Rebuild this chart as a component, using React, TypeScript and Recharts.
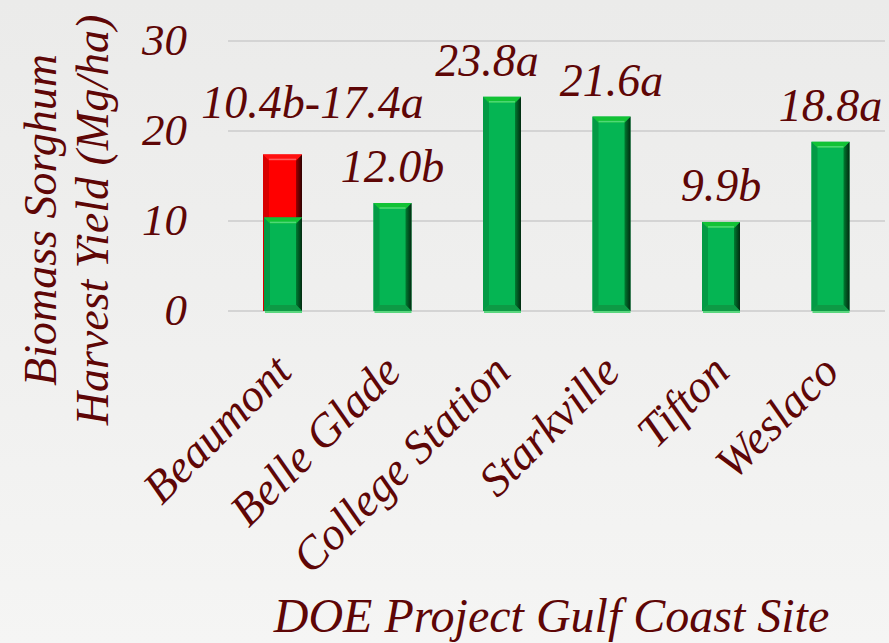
import { BarChart, Bar, XAxis, YAxis, CartesianGrid, LabelList, Label } from 'recharts'

const sites = ['Beaumont', 'Belle Glade', 'College Station', 'Starkville', 'Tifton', 'Weslaco']
const baseYield = [10.4, 12.0, 23.8, 21.6, 9.9, 18.8]
const baseGroup = ['b', 'b', 'a', 'a', 'b', 'a']
const upperYield = [17.4, null, null, null, null, null]
const upperGroup = ['a', '', '', '', '', '']
const yTicks = [0, 10, 20, 30]

const rows = sites.map((site, i) => ({
  site,
  base: baseYield[i],
  upper: upperYield[i],
  label:
    upperYield[i] != null
      ? `${baseYield[i].toFixed(1)}${baseGroup[i]}-${(upperYield[i] as number).toFixed(1)}${upperGroup[i]}`
      : `${baseYield[i].toFixed(1)}${baseGroup[i]}`,
}))

const INK = '#5e0606'
const serifItalic = (size: number) => ({
  fontFamily: 'Liberation Serif, Tinos, serif',
  fontStyle: 'italic' as const,
  fontSize: size,
})

// small nudges so neighbouring value labels don't collide
const labelNudge: Record<string, number> = {
  Beaumont: 30,
  'College Station': -15,
}

type Tone = { id: string; base: string; top: string; topHi: string; left: string; rightIn: string; rightOut: string; bottom: string }

const green: Tone = {
  id: 'bevel-green',
  base: '#05b553',
  top: '#12c235',
  topHi: '#4fd877',
  left: '#039a45',
  rightIn: '#007a30',
  rightOut: '#022a10',
  bottom: '#0d9a45',
}

const red: Tone = {
  id: 'bevel-red',
  base: '#ff0000',
  top: '#ff1010',
  topHi: '#ff5a5a',
  left: '#d80000',
  rightIn: '#9a0000',
  rightOut: '#2e0000',
  bottom: '#c00000',
}

function BevelBar(props: any) {
  const { x, y, width: w, height: h, tone } = props as { x: number; y: number; width: number; height: number; tone: Tone }
  if (!h || h <= 0) return null
  const b = 6
  return (
    <g>
      <defs>
        <linearGradient id={tone.id} x1="0" y1="0" x2="1" y2="0">
          <stop offset="0%" stopColor={tone.rightIn} />
          <stop offset="100%" stopColor={tone.rightOut} />
        </linearGradient>
      </defs>
      <rect x={x} y={y} width={w} height={h} fill={tone.base} />
      <polygon points={`${x},${y} ${x + b},${y + b} ${x + b},${y + h - b} ${x},${y + h}`} fill={tone.left} />
      <polygon
        points={`${x + w},${y} ${x + w},${y + h} ${x + w - b},${y + h - b} ${x + w - b},${y + b}`}
        fill={`url(#${tone.id})`}
      />
      <polygon points={`${x},${y + h} ${x + b},${y + h - b} ${x + w - b},${y + h - b} ${x + w},${y + h}`} fill={tone.bottom} />
      <polygon points={`${x},${y} ${x + w},${y} ${x + w - b},${y + b} ${x + b},${y + b}`} fill={tone.top} />
      <line x1={x + b} y1={y + b - 1} x2={x + w - b} y2={y + b - 1} stroke={tone.topHi} strokeWidth={1.5} />
      {tone.id === 'bevel-green' && <rect x={x + 1} y={y + h} width={w - 1} height={2} fill="#5ad67e" />}
    </g>
  )
}

function ValueLabel(props: any) {
  const { x, y, width, index, lift } = props
  const row = rows[index]
  if (!row) return null
  const dx = labelNudge[row.site] ?? 0
  return (
    <text x={x + width / 2 + dx} y={y - lift} textAnchor="middle" fill={INK} style={serifItalic(46)}>
      {row.label}
    </text>
  )
}

function SiteTick(props: any) {
  const { x, y, payload } = props
  const ax = x + 11
  const ay = y + 33
  return (
    <text
      x={ax}
      y={ay}
      transform={`rotate(-45, ${ax}, ${ay})`}
      textAnchor="end"
      fill={INK}
      style={serifItalic(46)}
    >
      {payload.value}
    </text>
  )
}

function YieldTick(props: any) {
  const { x, y, payload } = props
  return (
    <text x={x - 41} y={y + 14} textAnchor="end" fill={INK} style={serifItalic(45)}>
      {payload.value}
    </text>
  )
}

function YTitle(props: any) {
  const vb = props.viewBox ?? { x: 0, y: 41, width: 228, height: 270 }
  const cy = vb.y + vb.height / 2 + 44
  const lines = [
    { text: 'Biomass Sorghum', bx: vb.x + 56 },
    { text: 'Harvest Yield (Mg/ha)', bx: vb.x + 108 },
  ]
  return (
    <g>
      {lines.map((l) => (
        <text
          key={l.text}
          x={l.bx}
          y={cy}
          transform={`rotate(-90, ${l.bx}, ${cy})`}
          textAnchor="middle"
          fill={INK}
          style={serifItalic(46)}
        >
          {l.text}
        </text>
      ))}
    </g>
  )
}

function XTitle(props: any) {
  const vb = props.viewBox ?? { x: 228, y: 311, width: 657, height: 332 }
  return (
    <text x={vb.x + vb.width / 2 - 5} y={632} textAnchor="middle" fill={INK} style={serifItalic(48)}>
      DOE Project Gulf Coast Site
    </text>
  )
}

export default function App() {
  return (
    <div
      style={{
        width: 889,
        height: 643,
        background: 'linear-gradient(180deg, #ebebea 0%, #f0f0ef 55%, #f5f5f4 100%)',
        overflow: 'hidden',
        fontFamily: 'Liberation Serif, serif',
      }}
    >
      <style>{'body { margin: 0; }'}</style>
      <BarChart width={889} height={643} data={rows} margin={{ top: 41, right: 4, bottom: 0, left: 0 }}>
        <CartesianGrid xAxisId="front" vertical={false} stroke="#d4d4d4" strokeWidth={2} />
        <XAxis
          xAxisId="front"
          dataKey="site"
          height={332}
          interval={0}
          axisLine={false}
          tickLine={false}
          tickSize={0}
          tickMargin={0}
          tick={<SiteTick />}
        >
          <Label content={<XTitle />} />
        </XAxis>
        <XAxis xAxisId="back" dataKey="site" hide />
        <YAxis
          domain={[0, 30]}
          ticks={yTicks}
          width={228}
          axisLine={false}
          tickLine={false}
          tickSize={0}
          tickMargin={0}
          tick={<YieldTick />}
        >
          <Label content={<YTitle />} />
        </YAxis>
        <Bar
          xAxisId="back"
          dataKey="upper"
          barSize={39}
          isAnimationActive={false}
          shape={(p: any) => <BevelBar {...p} tone={red} />}
        >
          <LabelList dataKey="upper" content={<ValueLabel lift={36} />} />
        </Bar>
        <Bar
          xAxisId="front"
          dataKey="base"
          barSize={38}
          isAnimationActive={false}
          shape={(p: any) => <BevelBar {...p} tone={green} />}
        >
          <LabelList
            dataKey="base"
            content={(p: any) => (rows[p.index]?.upper != null ? null : <ValueLabel {...p} lift={21} />)}
          />
        </Bar>
      </BarChart>
    </div>
  )
}
